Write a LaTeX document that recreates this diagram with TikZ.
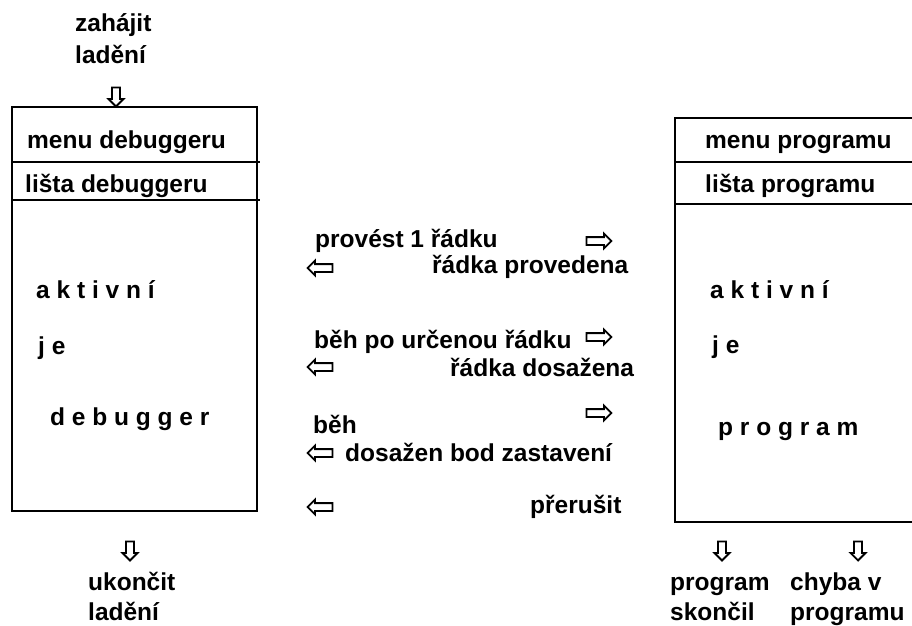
\documentclass[tikz,border=0pt]{standalone}
\usepackage{fontspec}
\setmainfont{Liberation Sans}
\usetikzlibrary{shapes.arrows}

\begin{document}
\begin{tikzpicture}
  [x=1pt,y=-1pt,every node/.style={inner sep=0pt,anchor=base west,font=\fontsize{24.5}{29}\selectfont\bfseries},
   sipka/.style={single arrow,draw,line width=1.8pt,anchor=center,inner sep=3pt,
     minimum height=25pt,minimum width=14pt,single arrow head extend=3.5pt},
   dolu/.style={sipka,shape border rotate=270,minimum height=19pt,minimum width=15pt,inner sep=3pt},
   okno/.style={line width=1.6pt}]
  \useasboundingbox (0,0) rectangle (912,625);

  % okno debuggeru
  \draw[okno] (12,107) rectangle (257,511);
  \draw[okno] (12,162) -- (260,162) (12,200) -- (260,200);
  \node (zahajit) at (75,31) {zahájit}; \node (ladeni) at (75,63) {ladění};
  \node[dolu] (start) at (116,95) {};
  \node (menuD) at (27,148) {menu debuggeru};
  \node (listaD) at (25,192) {lišta debuggeru};
  \node (aktD) at (36,298) {a k t i v n í};
  \node (jeD) at (38,354) {j e};
  \node (debugger) at (50,425) {d e b u g g e r};
  \node[dolu] (konec) at (130,549) {};
  \node (ukoncit) at (88,590) {ukončit}; \node (ladeni2) at (88,620) {ladění};

  % zpravy mezi okny
  \node (provest) at (315,247) {provést 1 řádku};
  \node (provedena) at (432,273) {řádka provedena};
  \node (behpo) at (314,348) {běh po určenou řádku};
  \node (dosazena) at (450,376) {řádka dosažena};
  \node (beh) at (313,433) {běh};
  \node (bod) at (345,461) {dosažen bod zastavení};
  \node (prerusit) at (530,513) {přerušit};
  \foreach \n/\y in {1/241,2/337,3/413}
    \node[sipka] (tam\n) at (597,\y) {};
  \foreach \n/\y in {1/268,2/367,3/453,4/507}
    \node[sipka,shape border rotate=180] (zpet\n) at (322,\y) {};

  % okno programu
  \draw[okno] (675,118) rectangle (920,522);
  \draw[okno] (675,162) -- (920,162) (675,204) -- (920,204);
  \node (menuP) at (705,148) {menu programu};
  \node (listaP) at (705,192) {lišta programu};
  \node (aktP) at (710,298) {a k t i v n í};
  \node (jeP) at (712,353) {j e};
  \node (program) at (718,435) {p r o g r a m};
  \node[dolu] (konec1) at (722,549) {};
  \node[dolu] (konec2) at (858,549) {};
  \node (skoncil1) at (670,590) {program}; \node (skoncil2) at (670,620) {skončil};
  \node (chyba1) at (790,590) {chyba v}; \node (chyba2) at (790,620) {programu};
\end{tikzpicture}
\end{document}
